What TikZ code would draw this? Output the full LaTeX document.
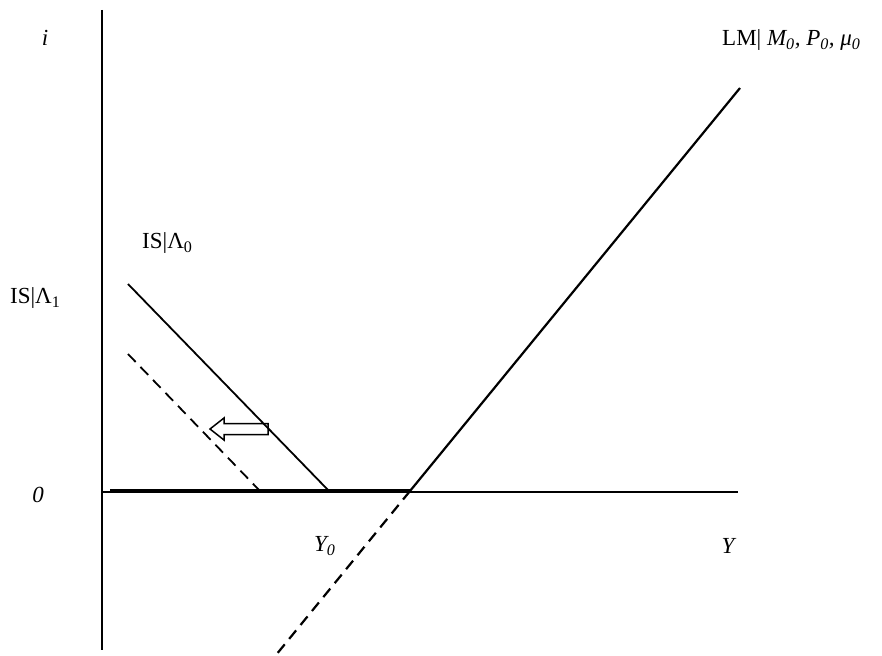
\documentclass[tikz,border=0pt]{standalone}
\usepackage{fontspec}
\setmainfont{Liberation Serif}
\begin{document}
\begin{tikzpicture}[x=1pt,y=-1pt,
  lbl/.style={inner sep=0pt,font=\fontsize{23}{26}\selectfont},
  axis/.style={line width=1.5pt},
  curve/.style={line width=1.8pt},
  dashcurve/.style={line width=1.8pt,dash pattern=on 11pt off 7pt}]
\useasboundingbox (0,0) rectangle (882,655);
% axes
\coordinate (ytop) at (102,10);
\coordinate (ybot) at (102,650);
\coordinate (xl) at (102,492);
\coordinate (xr) at (738,492);
\draw[axis] (ytop) -- (ybot);
\draw[axis] (xl) -- (xr);
% thick segment
\coordinate (ts) at (110,491);
\coordinate (kink) at (410,491);
\draw[line width=3.2pt] (ts) -- (kink);
% LM
\coordinate (lmtop) at (740,88);
\coordinate (lmbot) at (276,655);
\draw[line width=2.2pt] (kink) -- (lmtop);
\draw[dashcurve,line width=2.2pt] (kink) -- (lmbot);
% IS0
\coordinate (is0a) at (128,284);
\coordinate (is0b) at (329,491);
\draw[curve] (is0a) -- (is0b);
% IS1
\coordinate (is1a) at (128,354);
\coordinate (is1b) at (260,491);
\draw[dashcurve] (is1a) -- (is1b);
% hollow arrow
\draw[line width=1.5pt] (210,429) -- (224,418) -- (224,423.5) -- (268,423.5) -- (268,434.5) -- (224,434.5) -- (224,440) -- cycle;
% labels
\node[lbl] (li) at (45,38) {\textit{i}};
\node[lbl,anchor=west] (llm) at (722,40) {LM| \textit{M\textsubscript{0}, P\textsubscript{0}, μ\textsubscript{0}}};
\node[lbl,anchor=west] (lis0) at (142,243) {IS|Λ\textsubscript{0}};
\node[lbl,anchor=west] (lis1) at (10,298) {IS|Λ\textsubscript{1}};
\node[lbl] (l0) at (38,495) {\textit{0}};
\node[lbl,anchor=west] (ly0) at (314,546) {\textit{Y\textsubscript{0}}};
\node[lbl] (ly) at (729,546) {\textit{Y}};
\end{tikzpicture}
\end{document}
